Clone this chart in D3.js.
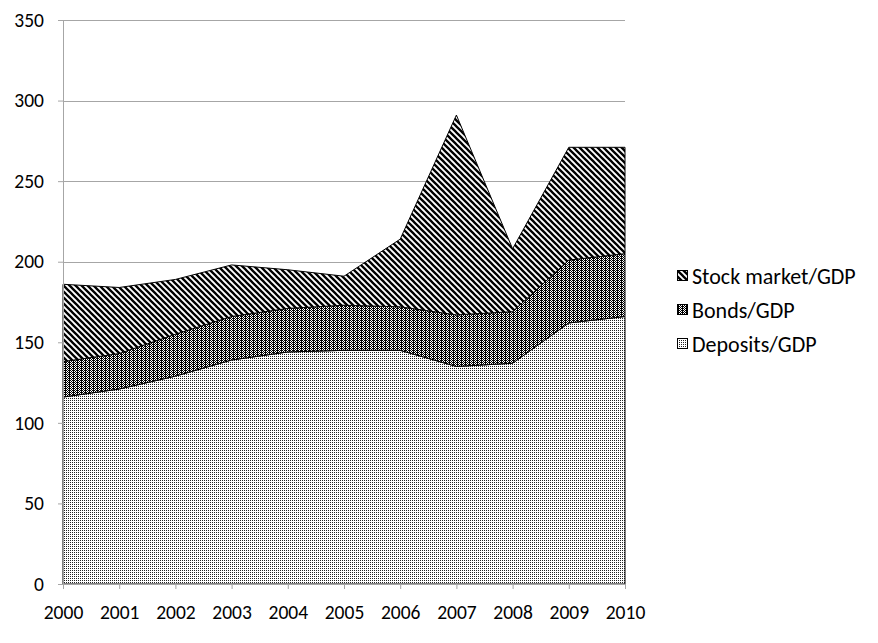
<!DOCTYPE html>
<html>
<head>
<meta charset="utf-8">
<script src="https://cdn.jsdelivr.net/npm/d3@7"></script>
<style>
  html, body { margin: 0; padding: 0; background: #fff; }
  svg text { font-family: Carlito, Lato, "Open Sans", sans-serif; fill: #000; }
</style>
</head>
<body>
<svg id="chart" width="878" height="643"></svg>
<script>
// Financial depth indicators, % of GDP
const years = [2000, 2001, 2002, 2003, 2004, 2005, 2006, 2007, 2008, 2009, 2010];
const deposits = [116, 121, 129, 139, 144, 145, 145, 135, 137, 162, 166];
const bonds = [22, 22, 26, 27, 27, 28, 27, 32, 32, 39, 39];
const stock = [48, 41, 34, 32, 24, 18, 42, 124, 39, 70, 66];
const yTicks = [0, 50, 100, 150, 200, 250, 300, 350];
const seriesKeys = ["Deposits/GDP", "Bonds/GDP", "Stock market/GDP"];
const legendOrder = ["Stock market/GDP", "Bonds/GDP", "Deposits/GDP"];

const rows = years.map((y, i) => ({
  year: y,
  "Deposits/GDP": deposits[i],
  "Bonds/GDP": bonds[i],
  "Stock market/GDP": stock[i]
}));

const svg = d3.select("#chart");
const margin = { left: 63, right: 253, top: 20, bottom: 59 };
const W = 878, H = 643;

const x = d3.scaleLinear().domain([2000, 2010]).range([margin.left, W - margin.right]);
const y = d3.scaleLinear().domain([0, 350]).range([H - margin.bottom, margin.top]);

// Fill patterns
const defs = svg.append("defs");
const patDep = defs.append("pattern").attr("id", "pat-dep")
  .attr("patternUnits", "userSpaceOnUse").attr("width", 2).attr("height", 2);
patDep.append("rect").attr("width", 2).attr("height", 2).attr("fill", "#fff");
patDep.append("rect").attr("width", 1).attr("height", 1).attr("fill", "#222");

const patBond = defs.append("pattern").attr("id", "pat-bond")
  .attr("patternUnits", "userSpaceOnUse").attr("width", 4).attr("height", 4);
patBond.append("rect").attr("width", 4).attr("height", 4).attr("fill", "#fff");
[[0,0],[2,0],[1,1],[3,1],[0,2],[2,2],[1,3],[3,3],[1,0],[1,2]].forEach(([px, py]) =>
  patBond.append("rect").attr("x", px).attr("y", py).attr("width", 1).attr("height", 1).attr("fill", "#000"));

const patStock = defs.append("pattern").attr("id", "pat-stock")
  .attr("patternUnits", "userSpaceOnUse").attr("width", 6).attr("height", 6);
patStock.append("rect").attr("width", 6).attr("height", 6).attr("fill", "#fff");
patStock.append("path")
  .attr("d", "M-2,-2L8,8M-2,4L2,8M4,-2L8,2")
  .attr("stroke", "#000").attr("stroke-width", 2.3);

const fills = {
  "Deposits/GDP": "url(#pat-dep)",
  "Bonds/GDP": "url(#pat-bond)",
  "Stock market/GDP": "url(#pat-stock)"
};

// Gridlines
const grid = svg.append("g");
grid.selectAll("line").data(yTicks.filter(t => t > 0)).join("line")
  .attr("x1", x(2000)).attr("x2", x(2010))
  .attr("y1", d => Math.round(y(d)) + 0.5).attr("y2", d => Math.round(y(d)) + 0.5)
  .attr("stroke", "#a6a6a6").attr("stroke-width", 1);

// Stacked areas
const stacked = d3.stack().keys(seriesKeys)(rows);
const area = d3.area()
  .x(d => x(d.data.year))
  .y0(d => y(d[0]))
  .y1(d => y(d[1]));

svg.append("g").selectAll("path").data(stacked).join("path")
  .attr("d", area)
  .attr("fill", d => fills[d.key])
  .attr("stroke", "#000")
  .attr("stroke-width", 1)
  .attr("stroke-linejoin", "miter");

// Axes
const yAxis = d3.axisLeft(y).tickValues(yTicks).tickSize(5).tickPadding(14);
const gy = svg.append("g").attr("transform", `translate(${x(2000)},0)`).call(yAxis);
gy.select(".domain").attr("stroke", "#a6a6a6");
gy.selectAll(".tick line").attr("stroke", "#a6a6a6");
gy.selectAll(".tick text").attr("font-size", 19.5).attr("font-family", "Carlito, Lato, sans-serif");

const xAxis = d3.axisBottom(x).tickValues(years).tickFormat(d3.format("d")).tickSize(5).tickPadding(16);
const gx = svg.append("g").attr("transform", `translate(0,${y(0)})`).call(xAxis);
gx.select(".domain").attr("stroke", "#a6a6a6");
gx.selectAll(".tick line").attr("stroke", "#a6a6a6");
gx.selectAll(".tick text").attr("font-size", 19.5).attr("font-family", "Carlito, Lato, sans-serif");

// Legend
const legend = svg.append("g").attr("transform", "translate(677,0)");
const legY = { "Stock market/GDP": 276, "Bonds/GDP": 310, "Deposits/GDP": 344 };
legendOrder.forEach(k => {
  const g = legend.append("g").attr("transform", `translate(0,${legY[k]})`);
  g.append("rect").attr("x", 0.5).attr("y", -5.5).attr("width", 10).attr("height", 10)
    .attr("fill", fills[k]).attr("stroke", "#000").attr("stroke-width", 1);
  g.append("text").attr("x", 15).attr("y", 0).attr("dy", "0.35em")
    .attr("font-size", 22).text(k);
});
</script>
</body>
</html>
